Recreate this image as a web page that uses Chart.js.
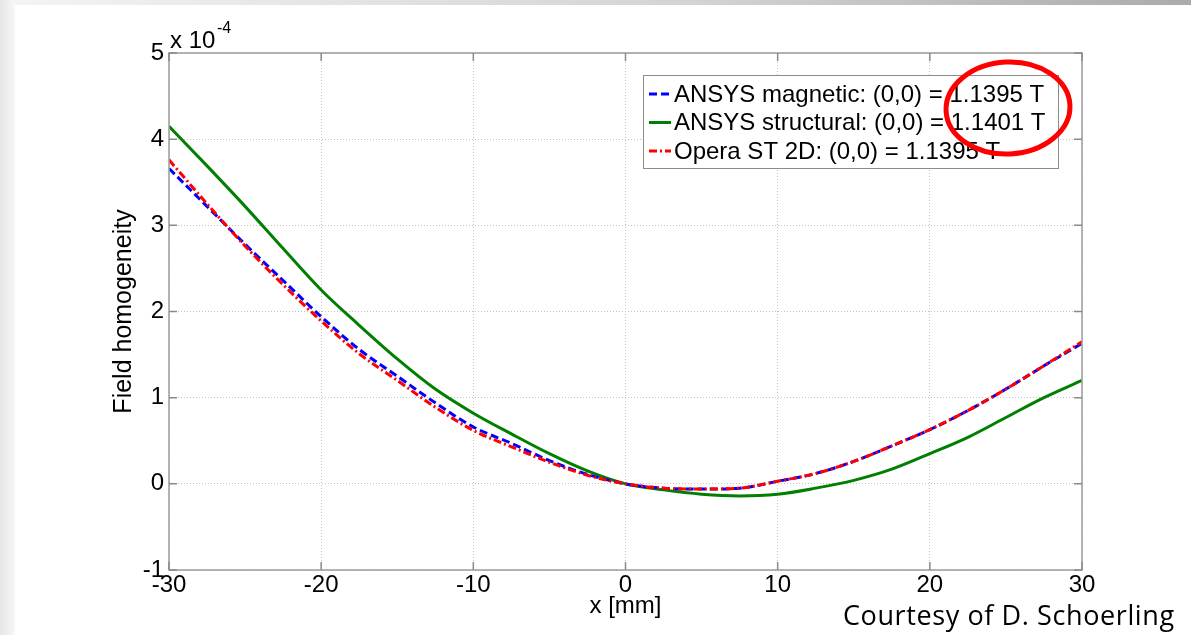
<!DOCTYPE html>
<html>
<head>
<meta charset="utf-8">
<script src="https://cdn.jsdelivr.net/npm/chart.js@4.4.1/dist/chart.umd.min.js"></script>
<style>
    html, body { margin: 0; padding: 0; background: #fff; overflow: hidden; }
    #wrap { position: relative; width: 1191px; height: 635px; }
    #topbar { position: absolute; left: 0; top: 0; width: 1191px; height: 5px;
        background: linear-gradient(to right, #f4f4f4, #d2d2d2 60%, #ababab); }
    #leftbar { position: absolute; left: 0; top: 0; width: 15px; height: 635px;
        background: linear-gradient(to right, #e6e6e6, #f7f7f7); }
    #chart { position: absolute; left: 0; top: 0; }
    #credit { position: absolute; left: 843px; top: 596px; font-family: "Open Sans", sans-serif;
        font-size: 27px; letter-spacing: 0.6px; color: #000; white-space: nowrap; }
</style>
</head>
<body>
<div id="wrap">
    <div id="topbar"></div>
    <div id="leftbar"></div>
    <canvas id="chart" width="1191" height="635"></canvas>
    <div id="credit">Courtesy of D. Schoerling</div>
</div>
<script>
// x positions [mm]
const xPositions = [-30, -27.5, -25, -22.5, -20, -17.5, -15, -12.5, -10, -7.5, -5, -2.5, 0,
    2.5, 5, 7.5, 10, 12.5, 15, 17.5, 20, 22.5, 25, 27.5, 30];

// field homogeneity, in units of 1e-4
const ansysMagnetic = [3.66, 3.22, 2.78, 2.36, 1.94, 1.56, 1.25, 0.94, 0.66, 0.47, 0.27, 0.11, 0.0,
    -0.05, -0.06, -0.05, 0.03, 0.12, 0.26, 0.44, 0.63, 0.85, 1.10, 1.37, 1.63];
const ansysStructural = [4.15, 3.69, 3.22, 2.73, 2.25, 1.84, 1.45, 1.10, 0.82, 0.58, 0.35, 0.15, 0.0,
    -0.07, -0.12, -0.14, -0.12, -0.05, 0.04, 0.17, 0.35, 0.54, 0.77, 1.00, 1.20];
const operaSt2d = [3.76, 3.25, 2.76, 2.31, 1.89, 1.51, 1.20, 0.89, 0.62, 0.43, 0.25, 0.10, 0.0,
    -0.05, -0.06, -0.05, 0.03, 0.12, 0.26, 0.44, 0.63, 0.85, 1.10, 1.37, 1.65];

const seriesLabels = [
    'ANSYS magnetic: (0,0) = 1.1395 T',
    'ANSYS structural: (0,0) = 1.1401 T',
    'Opera ST 2D: (0,0) = 1.1395 T'
];
const xTicks = [-30, -20, -10, 0, 10, 20, 30];
const yTicks = [-1, 0, 1, 2, 3, 4, 5];

const FONT = 'Liberation Sans, Arial, sans-serif';

function toPoints(values) {
    return xPositions.map((x, i) => ({ x: x, y: values[i] }));
}

// рамка, засечки внутрь, множитель, легенда и красный овал
const matlabFrame = {
    id: 'matlabFrame',
    afterDraw(chart) {
        const ctx = chart.ctx;
        const area = chart.chartArea;
        const xs = chart.scales.x;
        const ys = chart.scales.y;

        ctx.save();
        // box
        ctx.strokeStyle = '#9c9c9c';
        ctx.lineWidth = 1.5;
        ctx.strokeRect(area.left, area.top, area.right - area.left, area.bottom - area.top);

        // inward ticks
        ctx.strokeStyle = '#8a8a8a';
        ctx.lineWidth = 1.5;
        ctx.beginPath();
        yTicks.forEach(v => {
            const py = ys.getPixelForValue(v);
            ctx.moveTo(area.left, py); ctx.lineTo(area.left + 8, py);
            ctx.moveTo(area.right, py); ctx.lineTo(area.right - 8, py);
        });
        xTicks.forEach(v => {
            const px = xs.getPixelForValue(v);
            ctx.moveTo(px, area.bottom); ctx.lineTo(px, area.bottom - 8);
            ctx.moveTo(px, area.top); ctx.lineTo(px, area.top + 8);
        });
        ctx.stroke();

        // exponent
        ctx.fillStyle = '#000';
        ctx.textBaseline = 'alphabetic';
        ctx.textAlign = 'left';
        ctx.font = '24px ' + FONT;
        ctx.fillText('x 10', area.left + 1, area.top - 5);
        ctx.font = '16px ' + FONT;
        ctx.fillText('-4', area.left + 48, area.top - 20);

        // legend
        const lx = 643, ly = 75, lw = 415, lh = 93;
        ctx.fillStyle = '#fff';
        ctx.fillRect(lx, ly, lw, lh);
        ctx.strokeStyle = '#8c8c8c';
        ctx.lineWidth = 1;
        ctx.strokeRect(lx + 0.5, ly + 0.5, lw, lh);
        ctx.font = '24px ' + FONT;
        ctx.textBaseline = 'middle';
        chart.data.datasets.forEach((ds, i) => {
            const ry = ly + 19 + i * 28.5;
            ctx.strokeStyle = ds.borderColor;
            ctx.lineWidth = ds.borderWidth;
            ctx.setLineDash(ds.borderDash || []);
            ctx.beginPath();
            ctx.moveTo(lx + 6, ry);
            ctx.lineTo(lx + 28, ry);
            ctx.stroke();
            ctx.setLineDash([]);
            ctx.fillStyle = '#000';
            ctx.fillText(ds.label, lx + 31, ry + 1);
        });

        // red ellipse
        ctx.strokeStyle = '#ff0000';
        ctx.lineWidth = 5;
        ctx.beginPath();
        ctx.ellipse(1008, 108, 62, 46, -0.05, 0, Math.PI * 2);
        ctx.stroke();
        ctx.restore();
    }
};

const chart = new Chart(document.getElementById('chart'), {
    type: 'line',
    data: {
        datasets: [
            {
                label: seriesLabels[0],
                data: toPoints(ansysMagnetic),
                borderColor: '#0000ff',
                borderWidth: 3,
                borderDash: [8, 4],
                order: 1
            },
            {
                label: seriesLabels[1],
                data: toPoints(ansysStructural),
                borderColor: '#007f00',
                borderWidth: 3,
                order: 2
            },
            {
                label: seriesLabels[2],
                data: toPoints(operaSt2d),
                borderColor: '#ff0000',
                borderWidth: 3,
                borderDash: [8, 3, 2, 3],
                order: 0
            }
        ]
    },
    options: {
        responsive: false,
        animation: false,
        events: [],
        elements: {
            point: { radius: 0 },
            line: { cubicInterpolationMode: 'monotone', fill: false }
        },
        layout: { padding: { left: 0, top: 53, right: 109, bottom: 0 } },
        plugins: {
            legend: { display: false },
            tooltip: { enabled: false }
        },
        scales: {
            x: {
                type: 'linear',
                min: -30,
                max: 30,
                afterFit: (scale) => { scale.height = 65; },
                afterBuildTicks: (scale) => { scale.ticks = xTicks.map(v => ({ value: v })); },
                ticks: {
                    color: '#000',
                    padding: 1,
                    maxRotation: 0,
                    font: { family: FONT, size: 24 }
                },
                grid: { color: '#c4c4c4', lineWidth: 1, drawTicks: false },
                border: { display: false, dash: [1, 2] },
                title: {
                    display: true,
                    text: 'x [mm]',
                    color: '#000',
                    font: { family: FONT, size: 24 },
                    padding: { top: 0, bottom: 14 }
                }
            },
            y: {
                type: 'linear',
                min: -1,
                max: 5,
                afterFit: (scale) => { scale.width = 169; },
                afterBuildTicks: (scale) => { scale.ticks = yTicks.map(v => ({ value: v })); },
                ticks: {
                    color: '#000',
                    padding: 5,
                    font: { family: FONT, size: 24 }
                },
                grid: { color: '#c4c4c4', lineWidth: 1, drawTicks: false },
                border: { display: false, dash: [1, 2] },
                title: {
                    display: true,
                    text: 'Field homogeneity',
                    color: '#000',
                    font: { family: FONT, size: 25 },
                    padding: { top: 109, bottom: 0 }
                }
            }
        }
    },
    plugins: [matlabFrame]
});
</script>
</body>
</html>
